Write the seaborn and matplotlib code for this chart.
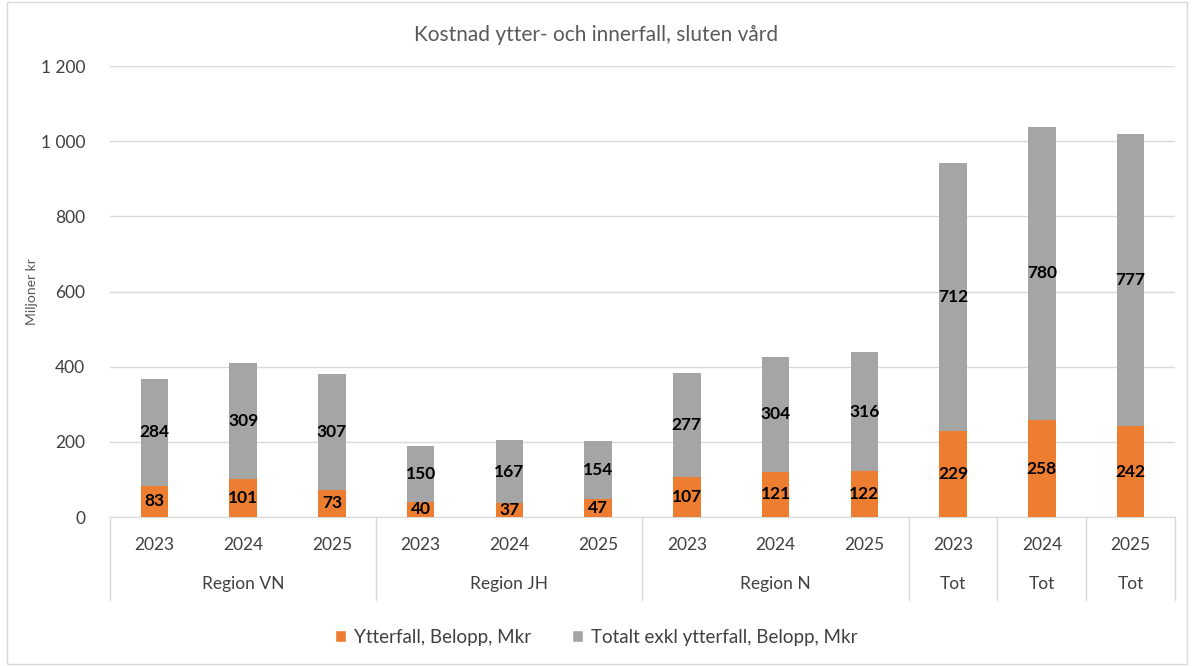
import matplotlib
matplotlib.use("Agg")
import matplotlib.pyplot as plt
import matplotlib.transforms as mtransforms
from matplotlib.patches import Patch, Rectangle
import pandas as pd
import seaborn as sns

# data
groups = ["Region VN", "Region VN", "Region VN",
          "Region JH", "Region JH", "Region JH",
          "Region N", "Region N", "Region N",
          "Tot", "Tot", "Tot"]
years = ["2023", "2024", "2025"] * 4
ytterfall = [83, 101, 73, 40, 37, 47, 107, 121, 122, 229, 258, 242]
ovrigt = [284, 309, 307, 150, 167, 154, 277, 304, 316, 712, 780, 777]
yticks = [0, 200, 400, 600, 800, 1000, 1200]

ORANGE = "#ED7D31"
GREY = "#A5A5A5"
TXT = "#404040"

df = pd.DataFrame({"group": groups, "year": years,
                   "ytterfall": ytterfall, "ovrigt": ovrigt})
df["key"] = [f"{g} {y}" for g, y in zip(groups, years)]
df["total"] = df["ytterfall"] + df["ovrigt"]

sns.set_style("white")
plt.rcParams["font.family"] = ["Lato", "DejaVu Sans"]

fig = plt.figure(figsize=(11.92, 6.66), dpi=100)
ax = fig.add_axes([0.0923, 0.2237, 0.8934, 0.6772])

sns.barplot(data=df, x="key", y="total", color=GREY, width=0.31,
            saturation=1, linewidth=0, ax=ax, zorder=2)
sns.barplot(data=df, x="key", y="ytterfall", color=ORANGE, width=0.31,
            saturation=1, linewidth=0, ax=ax, zorder=3)

ax.set_ylim(0, 1200)
ax.set_xlim(-0.5, len(df) - 0.5)
ax.set_yticks(yticks)
ax.set_yticklabels([f"{v:,}".replace(",", " ") for v in yticks])
ax.tick_params(axis="y", length=0, pad=18, labelsize=12.5, labelcolor=TXT)
ax.grid(axis="y", color="#D9D9D9", linewidth=1, zorder=0)
ax.set_axisbelow(True)
for s in ["top", "right", "left"]:
    ax.spines[s].set_visible(False)
ax.spines["bottom"].set_color("#D9D9D9")

# segment labels
for i, row in df.iterrows():
    ax.text(i, row["ytterfall"] / 2, str(row["ytterfall"]), ha="center",
            va="center", fontsize=12.5, fontweight="bold", color="black", zorder=5)
    ax.text(i, row["ytterfall"] + row["ovrigt"] / 2, str(row["ovrigt"]),
            ha="center", va="center", fontsize=12.5, fontweight="bold",
            color="black", zorder=5)

# multi-level category axis
ax.set_xticks(range(len(df)))
ax.set_xticklabels([])
ax.tick_params(axis="x", length=0)
ax.set_xlabel("")
ax.set_ylabel("Miljoner kr", fontsize=10, color="#595959")
ax.yaxis.set_label_coords(-0.068, 0.5)

trans = mtransforms.blended_transform_factory(ax.transData, ax.transAxes)
for i, y in enumerate(years):
    ax.text(i, -0.062, y, transform=trans, ha="center", va="center",
            fontsize=12.5, color=TXT)

bounds = []
start = 0
for i in range(1, len(groups) + 1):
    if i == len(groups) or groups[i] != groups[start] or groups[start] == "Tot":
        bounds.append((start, i - 1))
        start = i
for a, b in bounds:
    ax.text((a + b) / 2, -0.148, groups[a], transform=trans, ha="center",
            va="center", fontsize=12.5, color=TXT)

seps = [a - 0.5 for a, b in bounds] + [len(groups) - 0.5]
for x in seps:
    ax.plot([x, x], [0, -0.185], transform=trans, color="#D9D9D9",
            linewidth=1, clip_on=False)

fig.text(0.5, 0.947, "Kostnad ytter- och innerfall, sluten vård",
         ha="center", va="center", fontsize=15, color="#595959")

handles = [Patch(facecolor=ORANGE, label="Ytterfall, Belopp, Mkr"),
           Patch(facecolor=GREY, label="Totalt exkl ytterfall, Belopp, Mkr")]
fig.legend(handles=handles, loc="center", bbox_to_anchor=(0.5, 0.043),
           ncol=2, frameon=False, fontsize=13.5, handlelength=0.6,
           handleheight=0.6, handletextpad=0.4, columnspacing=2.2,
           labelcolor=TXT)

fig.patches.append(Rectangle((0.006, 0.003), 0.99, 0.994, transform=fig.transFigure,
                             fill=False, edgecolor="#D9D9D9", linewidth=1))

fig.savefig("out.png", dpi=100)
